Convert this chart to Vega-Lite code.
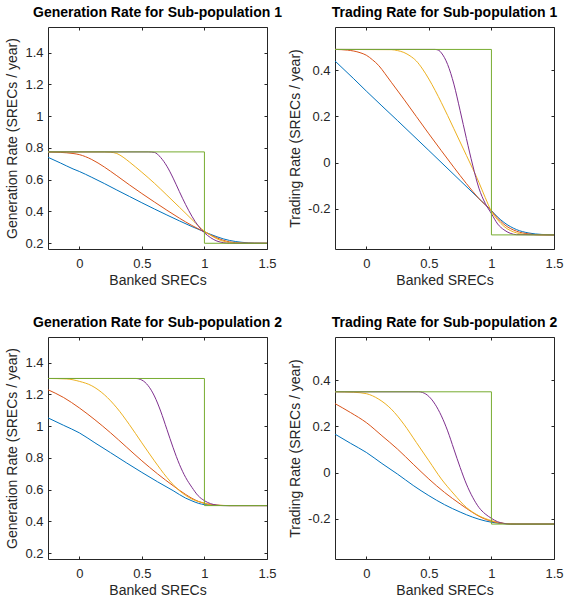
{
  "$schema": "https://vega.github.io/schema/vega-lite/v6.json",
  "background": "white",
  "padding": {"left": 5, "top": 5, "right": 5, "bottom": 5},
  "datasets": {
    "curves": [
      {"p":"g1","s":"s1","x":-0.25,"y":0.741},{"p":"g1","s":"s1","x":-0.15,"y":0.705},{"p":"g1","s":"s1","x":-0.05,"y":0.668},{"p":"g1","s":"s1","x":0,"y":0.652},{"p":"g1","s":"s1","x":0.1,"y":0.615},{"p":"g1","s":"s1","x":0.2,"y":0.576},{"p":"g1","s":"s1","x":0.3,"y":0.535},{"p":"g1","s":"s1","x":0.4,"y":0.495},{"p":"g1","s":"s1","x":0.5,"y":0.455},{"p":"g1","s":"s1","x":0.6,"y":0.416},{"p":"g1","s":"s1","x":0.7,"y":0.378},{"p":"g1","s":"s1","x":0.8,"y":0.341},{"p":"g1","s":"s1","x":0.9,"y":0.305},{"p":"g1","s":"s1","x":1.0,"y":0.272},{"p":"g1","s":"s1","x":1.05,"y":0.256},{"p":"g1","s":"s1","x":1.1,"y":0.241},{"p":"g1","s":"s1","x":1.15,"y":0.228},{"p":"g1","s":"s1","x":1.2,"y":0.218},{"p":"g1","s":"s1","x":1.3,"y":0.206},{"p":"g1","s":"s1","x":1.4,"y":0.201},{"p":"g1","s":"s1","x":1.5,"y":0.2},
      {"p":"g1","s":"s2","x":-0.25,"y":0.775},{"p":"g1","s":"s2","x":-0.15,"y":0.772},{"p":"g1","s":"s2","x":-0.05,"y":0.765},{"p":"g1","s":"s2","x":0,"y":0.758},{"p":"g1","s":"s2","x":0.05,"y":0.745},{"p":"g1","s":"s2","x":0.1,"y":0.727},{"p":"g1","s":"s2","x":0.15,"y":0.705},{"p":"g1","s":"s2","x":0.2,"y":0.68},{"p":"g1","s":"s2","x":0.3,"y":0.625},{"p":"g1","s":"s2","x":0.4,"y":0.568},{"p":"g1","s":"s2","x":0.5,"y":0.513},{"p":"g1","s":"s2","x":0.6,"y":0.46},{"p":"g1","s":"s2","x":0.7,"y":0.408},{"p":"g1","s":"s2","x":0.8,"y":0.358},{"p":"g1","s":"s2","x":0.9,"y":0.312},{"p":"g1","s":"s2","x":1.0,"y":0.272},{"p":"g1","s":"s2","x":1.05,"y":0.252},{"p":"g1","s":"s2","x":1.1,"y":0.234},{"p":"g1","s":"s2","x":1.15,"y":0.219},{"p":"g1","s":"s2","x":1.2,"y":0.209},{"p":"g1","s":"s2","x":1.3,"y":0.201},{"p":"g1","s":"s2","x":1.4,"y":0.2},{"p":"g1","s":"s2","x":1.5,"y":0.2},
      {"p":"g1","s":"s3","x":-0.25,"y":0.775},{"p":"g1","s":"s3","x":0.2,"y":0.775},{"p":"g1","s":"s3","x":0.25,"y":0.773},{"p":"g1","s":"s3","x":0.3,"y":0.765},{"p":"g1","s":"s3","x":0.35,"y":0.742},{"p":"g1","s":"s3","x":0.4,"y":0.712},{"p":"g1","s":"s3","x":0.45,"y":0.68},{"p":"g1","s":"s3","x":0.5,"y":0.647},{"p":"g1","s":"s3","x":0.6,"y":0.578},{"p":"g1","s":"s3","x":0.7,"y":0.503},{"p":"g1","s":"s3","x":0.8,"y":0.427},{"p":"g1","s":"s3","x":0.9,"y":0.35},{"p":"g1","s":"s3","x":1.0,"y":0.276},{"p":"g1","s":"s3","x":1.05,"y":0.25},{"p":"g1","s":"s3","x":1.1,"y":0.228},{"p":"g1","s":"s3","x":1.15,"y":0.213},{"p":"g1","s":"s3","x":1.2,"y":0.205},{"p":"g1","s":"s3","x":1.3,"y":0.2},{"p":"g1","s":"s3","x":1.5,"y":0.2},
      {"p":"g1","s":"s4","x":-0.25,"y":0.775},{"p":"g1","s":"s4","x":0.55,"y":0.775},{"p":"g1","s":"s4","x":0.6,"y":0.772},{"p":"g1","s":"s4","x":0.65,"y":0.74},{"p":"g1","s":"s4","x":0.7,"y":0.685},{"p":"g1","s":"s4","x":0.75,"y":0.61},{"p":"g1","s":"s4","x":0.8,"y":0.525},{"p":"g1","s":"s4","x":0.85,"y":0.443},{"p":"g1","s":"s4","x":0.9,"y":0.37},{"p":"g1","s":"s4","x":0.95,"y":0.31},{"p":"g1","s":"s4","x":1.0,"y":0.266},{"p":"g1","s":"s4","x":1.05,"y":0.235},{"p":"g1","s":"s4","x":1.1,"y":0.214},{"p":"g1","s":"s4","x":1.15,"y":0.204},{"p":"g1","s":"s4","x":1.2,"y":0.2},{"p":"g1","s":"s4","x":1.5,"y":0.2},

      {"p":"t1","s":"s1","x":-0.25,"y":0.44},{"p":"t1","s":"s1","x":-0.1,"y":0.363},{"p":"t1","s":"s1","x":0,"y":0.31},{"p":"t1","s":"s1","x":0.25,"y":0.182},{"p":"t1","s":"s1","x":0.5,"y":0.053},{"p":"t1","s":"s1","x":0.75,"y":-0.077},{"p":"t1","s":"s1","x":0.9,"y":-0.155},{"p":"t1","s":"s1","x":1.0,"y":-0.207},{"p":"t1","s":"s1","x":1.05,"y":-0.235},{"p":"t1","s":"s1","x":1.1,"y":-0.258},{"p":"t1","s":"s1","x":1.2,"y":-0.289},{"p":"t1","s":"s1","x":1.3,"y":-0.304},{"p":"t1","s":"s1","x":1.4,"y":-0.31},{"p":"t1","s":"s1","x":1.5,"y":-0.312},
      {"p":"t1","s":"s2","x":-0.25,"y":0.49},{"p":"t1","s":"s2","x":-0.15,"y":0.487},{"p":"t1","s":"s2","x":-0.05,"y":0.476},{"p":"t1","s":"s2","x":0,"y":0.465},{"p":"t1","s":"s2","x":0.05,"y":0.445},{"p":"t1","s":"s2","x":0.1,"y":0.42},{"p":"t1","s":"s2","x":0.15,"y":0.385},{"p":"t1","s":"s2","x":0.2,"y":0.348},{"p":"t1","s":"s2","x":0.3,"y":0.275},{"p":"t1","s":"s2","x":0.4,"y":0.2},{"p":"t1","s":"s2","x":0.5,"y":0.125},{"p":"t1","s":"s2","x":0.6,"y":0.052},{"p":"t1","s":"s2","x":0.7,"y":-0.02},{"p":"t1","s":"s2","x":0.8,"y":-0.09},{"p":"t1","s":"s2","x":0.9,"y":-0.155},{"p":"t1","s":"s2","x":1.0,"y":-0.208},{"p":"t1","s":"s2","x":1.05,"y":-0.24},{"p":"t1","s":"s2","x":1.1,"y":-0.266},{"p":"t1","s":"s2","x":1.2,"y":-0.296},{"p":"t1","s":"s2","x":1.3,"y":-0.308},{"p":"t1","s":"s2","x":1.4,"y":-0.312},{"p":"t1","s":"s2","x":1.5,"y":-0.312},
      {"p":"t1","s":"s3","x":-0.25,"y":0.49},{"p":"t1","s":"s3","x":0.2,"y":0.489},{"p":"t1","s":"s3","x":0.25,"y":0.485},{"p":"t1","s":"s3","x":0.3,"y":0.477},{"p":"t1","s":"s3","x":0.35,"y":0.462},{"p":"t1","s":"s3","x":0.4,"y":0.44},{"p":"t1","s":"s3","x":0.45,"y":0.405},{"p":"t1","s":"s3","x":0.5,"y":0.362},{"p":"t1","s":"s3","x":0.55,"y":0.313},{"p":"t1","s":"s3","x":0.6,"y":0.26},{"p":"t1","s":"s3","x":0.7,"y":0.147},{"p":"t1","s":"s3","x":0.8,"y":0.032},{"p":"t1","s":"s3","x":0.9,"y":-0.085},{"p":"t1","s":"s3","x":0.95,"y":-0.15},{"p":"t1","s":"s3","x":1.0,"y":-0.21},{"p":"t1","s":"s3","x":1.05,"y":-0.247},{"p":"t1","s":"s3","x":1.1,"y":-0.275},{"p":"t1","s":"s3","x":1.2,"y":-0.303},{"p":"t1","s":"s3","x":1.3,"y":-0.311},{"p":"t1","s":"s3","x":1.5,"y":-0.312},
      {"p":"t1","s":"s4","x":-0.25,"y":0.49},{"p":"t1","s":"s4","x":0.55,"y":0.49},{"p":"t1","s":"s4","x":0.58,"y":0.486},{"p":"t1","s":"s4","x":0.6,"y":0.475},{"p":"t1","s":"s4","x":0.65,"y":0.425},{"p":"t1","s":"s4","x":0.7,"y":0.34},{"p":"t1","s":"s4","x":0.75,"y":0.225},{"p":"t1","s":"s4","x":0.8,"y":0.105},{"p":"t1","s":"s4","x":0.85,"y":-0.01},{"p":"t1","s":"s4","x":0.9,"y":-0.11},{"p":"t1","s":"s4","x":0.95,"y":-0.175},{"p":"t1","s":"s4","x":1.0,"y":-0.22},{"p":"t1","s":"s4","x":1.05,"y":-0.265},{"p":"t1","s":"s4","x":1.1,"y":-0.29},{"p":"t1","s":"s4","x":1.15,"y":-0.305},{"p":"t1","s":"s4","x":1.2,"y":-0.311},{"p":"t1","s":"s4","x":1.5,"y":-0.312},

      {"p":"g2","s":"s1","x":-0.25,"y":1.052},{"p":"g2","s":"s1","x":-0.125,"y":1.005},{"p":"g2","s":"s1","x":0,"y":0.958},{"p":"g2","s":"s1","x":0.125,"y":0.895},{"p":"g2","s":"s1","x":0.25,"y":0.833},{"p":"g2","s":"s1","x":0.375,"y":0.77},{"p":"g2","s":"s1","x":0.5,"y":0.709},{"p":"g2","s":"s1","x":0.625,"y":0.65},{"p":"g2","s":"s1","x":0.75,"y":0.594},{"p":"g2","s":"s1","x":0.85,"y":0.547},{"p":"g2","s":"s1","x":0.9,"y":0.53},{"p":"g2","s":"s1","x":0.95,"y":0.515},{"p":"g2","s":"s1","x":1.0,"y":0.506},{"p":"g2","s":"s1","x":1.1,"y":0.501},{"p":"g2","s":"s1","x":1.2,"y":0.5},{"p":"g2","s":"s1","x":1.5,"y":0.5},
      {"p":"g2","s":"s2","x":-0.25,"y":1.229},{"p":"g2","s":"s2","x":-0.125,"y":1.18},{"p":"g2","s":"s2","x":0,"y":1.115},{"p":"g2","s":"s2","x":0.125,"y":1.04},{"p":"g2","s":"s2","x":0.25,"y":0.958},{"p":"g2","s":"s2","x":0.375,"y":0.87},{"p":"g2","s":"s2","x":0.5,"y":0.782},{"p":"g2","s":"s2","x":0.625,"y":0.7},{"p":"g2","s":"s2","x":0.75,"y":0.625},{"p":"g2","s":"s2","x":0.85,"y":0.57},{"p":"g2","s":"s2","x":0.9,"y":0.546},{"p":"g2","s":"s2","x":0.95,"y":0.527},{"p":"g2","s":"s2","x":1.0,"y":0.514},{"p":"g2","s":"s2","x":1.05,"y":0.506},{"p":"g2","s":"s2","x":1.1,"y":0.502},{"p":"g2","s":"s2","x":1.2,"y":0.5},{"p":"g2","s":"s2","x":1.5,"y":0.5},
      {"p":"g2","s":"s3","x":-0.25,"y":1.3},{"p":"g2","s":"s3","x":-0.1,"y":1.297},{"p":"g2","s":"s3","x":0,"y":1.282},{"p":"g2","s":"s3","x":0.1,"y":1.254},{"p":"g2","s":"s3","x":0.2,"y":1.198},{"p":"g2","s":"s3","x":0.3,"y":1.115},{"p":"g2","s":"s3","x":0.4,"y":1.01},{"p":"g2","s":"s3","x":0.5,"y":0.895},{"p":"g2","s":"s3","x":0.6,"y":0.782},{"p":"g2","s":"s3","x":0.7,"y":0.677},{"p":"g2","s":"s3","x":0.8,"y":0.594},{"p":"g2","s":"s3","x":0.9,"y":0.541},{"p":"g2","s":"s3","x":1.0,"y":0.516},{"p":"g2","s":"s3","x":1.05,"y":0.507},{"p":"g2","s":"s3","x":1.1,"y":0.503},{"p":"g2","s":"s3","x":1.2,"y":0.5},{"p":"g2","s":"s3","x":1.5,"y":0.5},
      {"p":"g2","s":"s4","x":-0.25,"y":1.3},{"p":"g2","s":"s4","x":0.45,"y":1.3},{"p":"g2","s":"s4","x":0.5,"y":1.29},{"p":"g2","s":"s4","x":0.55,"y":1.255},{"p":"g2","s":"s4","x":0.6,"y":1.19},{"p":"g2","s":"s4","x":0.65,"y":1.095},{"p":"g2","s":"s4","x":0.7,"y":0.98},{"p":"g2","s":"s4","x":0.75,"y":0.864},{"p":"g2","s":"s4","x":0.8,"y":0.76},{"p":"g2","s":"s4","x":0.85,"y":0.677},{"p":"g2","s":"s4","x":0.9,"y":0.615},{"p":"g2","s":"s4","x":0.95,"y":0.562},{"p":"g2","s":"s4","x":1.0,"y":0.531},{"p":"g2","s":"s4","x":1.05,"y":0.512},{"p":"g2","s":"s4","x":1.1,"y":0.503},{"p":"g2","s":"s4","x":1.15,"y":0.5},{"p":"g2","s":"s4","x":1.5,"y":0.5},

      {"p":"t2","s":"s1","x":-0.25,"y":0.167},{"p":"t2","s":"s1","x":-0.125,"y":0.127},{"p":"t2","s":"s1","x":0,"y":0.088},{"p":"t2","s":"s1","x":0.125,"y":0.04},{"p":"t2","s":"s1","x":0.25,"y":-0.006},{"p":"t2","s":"s1","x":0.375,"y":-0.055},{"p":"t2","s":"s1","x":0.5,"y":-0.099},{"p":"t2","s":"s1","x":0.625,"y":-0.138},{"p":"t2","s":"s1","x":0.75,"y":-0.17},{"p":"t2","s":"s1","x":0.85,"y":-0.192},{"p":"t2","s":"s1","x":0.9,"y":-0.201},{"p":"t2","s":"s1","x":1.0,"y":-0.214},{"p":"t2","s":"s1","x":1.1,"y":-0.22},{"p":"t2","s":"s1","x":1.2,"y":-0.222},{"p":"t2","s":"s1","x":1.5,"y":-0.222},
      {"p":"t2","s":"s2","x":-0.25,"y":0.299},{"p":"t2","s":"s2","x":-0.125,"y":0.26},{"p":"t2","s":"s2","x":0,"y":0.217},{"p":"t2","s":"s2","x":0.125,"y":0.16},{"p":"t2","s":"s2","x":0.25,"y":0.102},{"p":"t2","s":"s2","x":0.375,"y":0.037},{"p":"t2","s":"s2","x":0.5,"y":-0.027},{"p":"t2","s":"s2","x":0.625,"y":-0.085},{"p":"t2","s":"s2","x":0.75,"y":-0.135},{"p":"t2","s":"s2","x":0.85,"y":-0.172},{"p":"t2","s":"s2","x":0.9,"y":-0.188},{"p":"t2","s":"s2","x":1.0,"y":-0.21},{"p":"t2","s":"s2","x":1.1,"y":-0.22},{"p":"t2","s":"s2","x":1.2,"y":-0.222},{"p":"t2","s":"s2","x":1.5,"y":-0.222},
      {"p":"t2","s":"s3","x":-0.25,"y":0.35},{"p":"t2","s":"s3","x":-0.1,"y":0.348},{"p":"t2","s":"s3","x":0,"y":0.342},{"p":"t2","s":"s3","x":0.1,"y":0.318},{"p":"t2","s":"s3","x":0.2,"y":0.275},{"p":"t2","s":"s3","x":0.3,"y":0.21},{"p":"t2","s":"s3","x":0.4,"y":0.131},{"p":"t2","s":"s3","x":0.5,"y":0.052},{"p":"t2","s":"s3","x":0.6,"y":-0.027},{"p":"t2","s":"s3","x":0.7,"y":-0.092},{"p":"t2","s":"s3","x":0.8,"y":-0.15},{"p":"t2","s":"s3","x":0.9,"y":-0.186},{"p":"t2","s":"s3","x":1.0,"y":-0.207},{"p":"t2","s":"s3","x":1.1,"y":-0.219},{"p":"t2","s":"s3","x":1.2,"y":-0.222},{"p":"t2","s":"s3","x":1.5,"y":-0.222},
      {"p":"t2","s":"s4","x":-0.25,"y":0.35},{"p":"t2","s":"s4","x":0.42,"y":0.35},{"p":"t2","s":"s4","x":0.45,"y":0.347},{"p":"t2","s":"s4","x":0.5,"y":0.33},{"p":"t2","s":"s4","x":0.55,"y":0.296},{"p":"t2","s":"s4","x":0.6,"y":0.246},{"p":"t2","s":"s4","x":0.65,"y":0.181},{"p":"t2","s":"s4","x":0.7,"y":0.102},{"p":"t2","s":"s4","x":0.75,"y":0.023},{"p":"t2","s":"s4","x":0.8,"y":-0.049},{"p":"t2","s":"s4","x":0.85,"y":-0.106},{"p":"t2","s":"s4","x":0.9,"y":-0.15},{"p":"t2","s":"s4","x":0.95,"y":-0.178},{"p":"t2","s":"s4","x":1.0,"y":-0.197},{"p":"t2","s":"s4","x":1.05,"y":-0.212},{"p":"t2","s":"s4","x":1.1,"y":-0.219},{"p":"t2","s":"s4","x":1.15,"y":-0.222},{"p":"t2","s":"s4","x":1.5,"y":-0.222}
    ],
    "steps": [
      {"p":"g1","x":-0.25,"y":0.775},{"p":"g1","x":1,"y":0.2},{"p":"g1","x":1.5,"y":0.2},
      {"p":"t1","x":-0.25,"y":0.49},{"p":"t1","x":1,"y":-0.312},{"p":"t1","x":1.5,"y":-0.312},
      {"p":"g2","x":-0.25,"y":1.3},{"p":"g2","x":1,"y":0.5},{"p":"g2","x":1.5,"y":0.5},
      {"p":"t2","x":-0.25,"y":0.35},{"p":"t2","x":1,"y":-0.222},{"p":"t2","x":1.5,"y":-0.222}
    ]
  },
  "columns": 2,
  "spacing": {"row": 88, "column": 68},
  "bounds": "flush",
  "concat": [
    {
      "title": "Generation Rate for Sub-population 1",
      "width": 219, "height": 222,
      "layer": [
        {"data": {"name": "curves"}, "transform": [{"filter": "datum.p === 'g1'"}],
         "mark": {"type": "line", "interpolate": "monotone", "strokeWidth": 1, "clip": true},
         "encoding": {
           "x": {"field": "x", "type": "quantitative", "scale": {"domain": [-0.25, 1.5], "nice": false, "zero": false}, "axis": {"values": [0, 0.5, 1, 1.5], "title": "Banked SRECs", "orient": "bottom"}},
           "y": {"field": "y", "type": "quantitative", "scale": {"domain": [0.164, 1.561], "nice": false, "zero": false}, "axis": {"values": [0.2, 0.4, 0.6, 0.8, 1, 1.2, 1.4], "title": "Generation Rate (SRECs / year)", "orient": "left"}},
           "color": {"field": "s", "type": "nominal", "scale": {"domain": ["s1", "s2", "s3", "s4"], "range": ["#0072BD", "#D95319", "#EDB120", "#7E2F8E"]}, "legend": null}
         }},
        {"data": {"name": "steps"}, "transform": [{"filter": "datum.p === 'g1'"}],
         "mark": {"type": "line", "interpolate": "step-after", "strokeWidth": 1, "color": "#77AC30", "clip": true},
         "encoding": {
           "x": {"field": "x", "type": "quantitative", "axis": {"values": [0, 0.5, 1, 1.5], "orient": "top", "labels": false, "title": null}},
           "y": {"field": "y", "type": "quantitative", "axis": {"values": [0.2, 0.4, 0.6, 0.8, 1, 1.2, 1.4], "orient": "right", "labels": false, "title": null}}
         }}
      ],
      "resolve": {"axis": {"x": "independent", "y": "independent"}}
    },
    {
      "title": "Trading Rate for Sub-population 1",
      "width": 219, "height": 222,
      "layer": [
        {"data": {"name": "curves"}, "transform": [{"filter": "datum.p === 't1'"}],
         "mark": {"type": "line", "interpolate": "monotone", "strokeWidth": 1, "clip": true},
         "encoding": {
           "x": {"field": "x", "type": "quantitative", "scale": {"domain": [-0.25, 1.5], "nice": false, "zero": false}, "axis": {"values": [0, 0.5, 1, 1.5], "title": "Banked SRECs", "orient": "bottom"}},
           "y": {"field": "y", "type": "quantitative", "scale": {"domain": [-0.373, 0.587], "nice": false, "zero": false}, "axis": {"values": [-0.2, 0, 0.2, 0.4], "title": "Trading Rate (SRECs / year)", "orient": "left"}},
           "color": {"field": "s", "type": "nominal", "scale": {"domain": ["s1", "s2", "s3", "s4"], "range": ["#0072BD", "#D95319", "#EDB120", "#7E2F8E"]}, "legend": null}
         }},
        {"data": {"name": "steps"}, "transform": [{"filter": "datum.p === 't1'"}],
         "mark": {"type": "line", "interpolate": "step-after", "strokeWidth": 1, "color": "#77AC30", "clip": true},
         "encoding": {
           "x": {"field": "x", "type": "quantitative", "axis": {"values": [0, 0.5, 1, 1.5], "orient": "top", "labels": false, "title": null}},
           "y": {"field": "y", "type": "quantitative", "axis": {"values": [-0.2, 0, 0.2, 0.4], "orient": "right", "labels": false, "title": null}}
         }}
      ],
      "resolve": {"axis": {"x": "independent", "y": "independent"}}
    },
    {
      "title": "Generation Rate for Sub-population 2",
      "width": 219, "height": 222,
      "layer": [
        {"data": {"name": "curves"}, "transform": [{"filter": "datum.p === 'g2'"}],
         "mark": {"type": "line", "interpolate": "monotone", "strokeWidth": 1, "clip": true},
         "encoding": {
           "x": {"field": "x", "type": "quantitative", "scale": {"domain": [-0.25, 1.5], "nice": false, "zero": false}, "axis": {"values": [0, 0.5, 1, 1.5], "title": "Banked SRECs", "orient": "bottom"}},
           "y": {"field": "y", "type": "quantitative", "scale": {"domain": [0.164, 1.561], "nice": false, "zero": false}, "axis": {"values": [0.2, 0.4, 0.6, 0.8, 1, 1.2, 1.4], "title": "Generation Rate (SRECs / year)", "orient": "left"}},
           "color": {"field": "s", "type": "nominal", "scale": {"domain": ["s1", "s2", "s3", "s4"], "range": ["#0072BD", "#D95319", "#EDB120", "#7E2F8E"]}, "legend": null}
         }},
        {"data": {"name": "steps"}, "transform": [{"filter": "datum.p === 'g2'"}],
         "mark": {"type": "line", "interpolate": "step-after", "strokeWidth": 1, "color": "#77AC30", "clip": true},
         "encoding": {
           "x": {"field": "x", "type": "quantitative", "axis": {"values": [0, 0.5, 1, 1.5], "orient": "top", "labels": false, "title": null}},
           "y": {"field": "y", "type": "quantitative", "axis": {"values": [0.2, 0.4, 0.6, 0.8, 1, 1.2, 1.4], "orient": "right", "labels": false, "title": null}}
         }}
      ],
      "resolve": {"axis": {"x": "independent", "y": "independent"}}
    },
    {
      "title": "Trading Rate for Sub-population 2",
      "width": 219, "height": 222,
      "layer": [
        {"data": {"name": "curves"}, "transform": [{"filter": "datum.p === 't2'"}],
         "mark": {"type": "line", "interpolate": "monotone", "strokeWidth": 1, "clip": true},
         "encoding": {
           "x": {"field": "x", "type": "quantitative", "scale": {"domain": [-0.25, 1.5], "nice": false, "zero": false}, "axis": {"values": [0, 0.5, 1, 1.5], "title": "Banked SRECs", "orient": "bottom"}},
           "y": {"field": "y", "type": "quantitative", "scale": {"domain": [-0.373, 0.587], "nice": false, "zero": false}, "axis": {"values": [-0.2, 0, 0.2, 0.4], "title": "Trading Rate (SRECs / year)", "orient": "left"}},
           "color": {"field": "s", "type": "nominal", "scale": {"domain": ["s1", "s2", "s3", "s4"], "range": ["#0072BD", "#D95319", "#EDB120", "#7E2F8E"]}, "legend": null}
         }},
        {"data": {"name": "steps"}, "transform": [{"filter": "datum.p === 't2'"}],
         "mark": {"type": "line", "interpolate": "step-after", "strokeWidth": 1, "color": "#77AC30", "clip": true},
         "encoding": {
           "x": {"field": "x", "type": "quantitative", "axis": {"values": [0, 0.5, 1, 1.5], "orient": "top", "labels": false, "title": null}},
           "y": {"field": "y", "type": "quantitative", "axis": {"values": [-0.2, 0, 0.2, 0.4], "orient": "right", "labels": false, "title": null}}
         }}
      ],
      "resolve": {"axis": {"x": "independent", "y": "independent"}}
    }
  ],
  "config": {
    "font": "Liberation Sans",
    "view": {"stroke": "#262626", "strokeWidth": 1},
    "axis": {
      "domain": false, "grid": false,
      "tickColor": "#262626", "tickSize": -3, "tickWidth": 1,
      "labelColor": "#262626", "labelFont": "Liberation Sans", "labelFontSize": 13,
      "labelPadding": 8, "labelFlush": false, "labelOverlap": false, "labelBound": false,
      "labelExpr": "'' + datum.value",
      "titleFont": "Liberation Sans", "titleFontSize": 14, "titleFontWeight": "normal", "titleColor": "#262626", "titlePadding": 5
    },
    "axisBottom": {"labelPadding": 11, "titlePadding": 3},
    "title": {"font": "Liberation Sans", "fontSize": 14, "fontWeight": "bold", "color": "#000000", "offset": 7}
  }
}
